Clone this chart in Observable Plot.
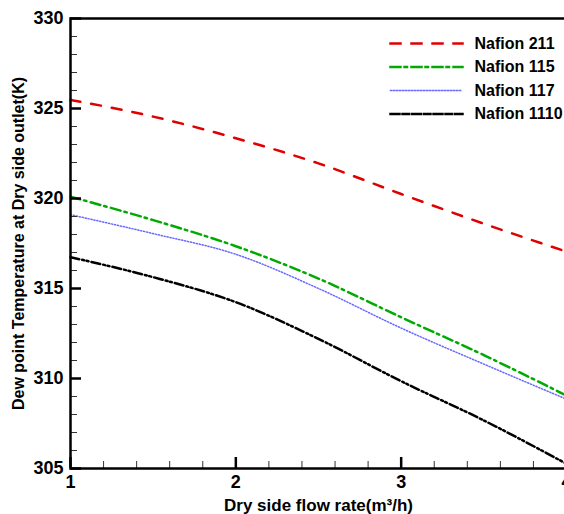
<!DOCTYPE html>
<html><head><meta charset="utf-8">
<script src="https://cdn.jsdelivr.net/npm/d3@7"></script>
<script src="https://cdn.jsdelivr.net/npm/@observablehq/plot@0.6"></script>
<style>
html,body{margin:0;padding:0;overflow:hidden;background:#fff;width:564px;height:514px}
#wrap{position:relative;width:568px;height:514px}
</style></head><body><div id="wrap"></div>
<script>
// ---- data ----
const flowRate   = [1, 1.5, 2, 2.5, 3, 3.5, 4];
const nafion211  = [325.48, 324.55, 323.35, 321.95, 320.25, 318.6, 317.05];
const nafion115  = [320.1, 318.8, 317.35, 315.55, 313.4, 311.3, 309.05];
const nafion117  = [319.1, 318.05, 316.9, 315.0, 312.8, 310.8, 308.85];
const nafion1110 = [316.74, 315.63, 314.24, 312.2, 309.85, 307.67, 305.26];
const seriesNames = ["Nafion 211", "Nafion 115", "Nafion 117", "Nafion 1110"];
const seriesValues = [nafion211, nafion115, nafion117, nafion1110];
const xTicks = [1, 2, 3, 4];
const xMinorTicks = [1.2, 1.4, 1.6, 1.8, 2.2, 2.4, 2.6, 2.8, 3.2, 3.4, 3.6, 3.8];
const yTicks = [305, 310, 315, 320, 325, 330];
const yMinorTicks = [306,307,308,309,311,312,313,314,316,317,318,319,321,322,323,324,326,327,328,329];
const xLabel = "Dry side flow rate(m\u00B3/h)";
const yLabel = "Dew point Temperature at Dry side outlet(K)";

// ---- styles ----
const seriesStyle = [
  {stroke: "#e00000", dash: "10,11", width: 2.5},
  {stroke: "#00aa00", dash: "10,4,2.5,4.5", width: 2.5},
  {stroke: "#6a6aff", dash: "1.2,1.8", width: 1.5},
  {stroke: "#000000", dash: "9,3,2,2.5,2,3", width: 2.5}
];
const W = 568, H = 514, mL = 70, mR = 2, mT = 18, mB = 46;
const fw = W - mL - mR, fh = H - mT - mB;
const minorLen = 7, majorLen = 11;
const legendRowOffset = [25, 48.5, 72, 95.5];
const legendLeft = 320, legendLineLen = 72, legendTextDx = 404;

const tables = seriesNames.map((name, i) => flowRate.map((x, j) => ({series: name, x, y: seriesValues[i][j]})));

const legendMarks = seriesNames.flatMap((name, i) => [
  Plot.frame({anchor: "top", insetTop: legendRowOffset[i], insetLeft: legendLeft, insetRight: fw - legendLeft - legendLineLen,
    stroke: seriesStyle[i].stroke, strokeWidth: seriesStyle[i].width, strokeDasharray: seriesStyle[i].dash}),
  Plot.text([name], {frameAnchor: "top-left", dx: legendTextDx, dy: legendRowOffset[i], textAnchor: "start", lineAnchor: "middle",
    text: d => d, fontSize: 16})
]);

const plot = Plot.plot({
  width: W, height: H,
  marginLeft: mL, marginRight: mR, marginTop: mT, marginBottom: mB,
  x: {domain: [1, 4], axis: null},
  y: {domain: [305, 330], axis: null},
  style: {fontFamily: "Liberation Sans", fontWeight: "bold", fontSize: "18px"},
  marks: [
    ...tables.map((t, i) => Plot.line(t, {x: "x", y: "y", curve: "monotone-x",
      stroke: seriesStyle[i].stroke, strokeWidth: seriesStyle[i].width,
      strokeDasharray: seriesStyle[i].dash})),
    Plot.tickX(xMinorTicks, {x: d => d, insetTop: fh - minorLen, stroke: "#333", strokeWidth: 1}),
    Plot.tickY(yMinorTicks, {y: d => d, insetRight: fw - minorLen, stroke: "#333", strokeWidth: 1}),
    Plot.tickX(xTicks, {x: d => d, insetTop: fh - majorLen, stroke: "#000", strokeWidth: 2.5}),
    Plot.tickY(yTicks, {y: d => d, insetRight: fw - majorLen, stroke: "#000", strokeWidth: 2.5}),
    Plot.frame({stroke: "#000", strokeWidth: 2.5}),
    ...legendMarks,
    Plot.text(xTicks, {x: d => d, frameAnchor: "bottom", lineAnchor: "top", dy: 7, text: d => String(d), fontSize: 18}),
    Plot.text(yTicks, {y: d => d, frameAnchor: "left", textAnchor: "end", dx: -7, text: d => String(d), fontSize: 18}),
    Plot.text([yLabel], {frameAnchor: "left", dx: -52, rotate: -90, textAnchor: "middle", text: d => d, fontSize: 16}),
    Plot.text([xLabel], {frameAnchor: "bottom", dy: 42, textAnchor: "middle", text: d => d, fontSize: 17})
  ]
});
document.getElementById("wrap").appendChild(plot);
</script></body></html>
